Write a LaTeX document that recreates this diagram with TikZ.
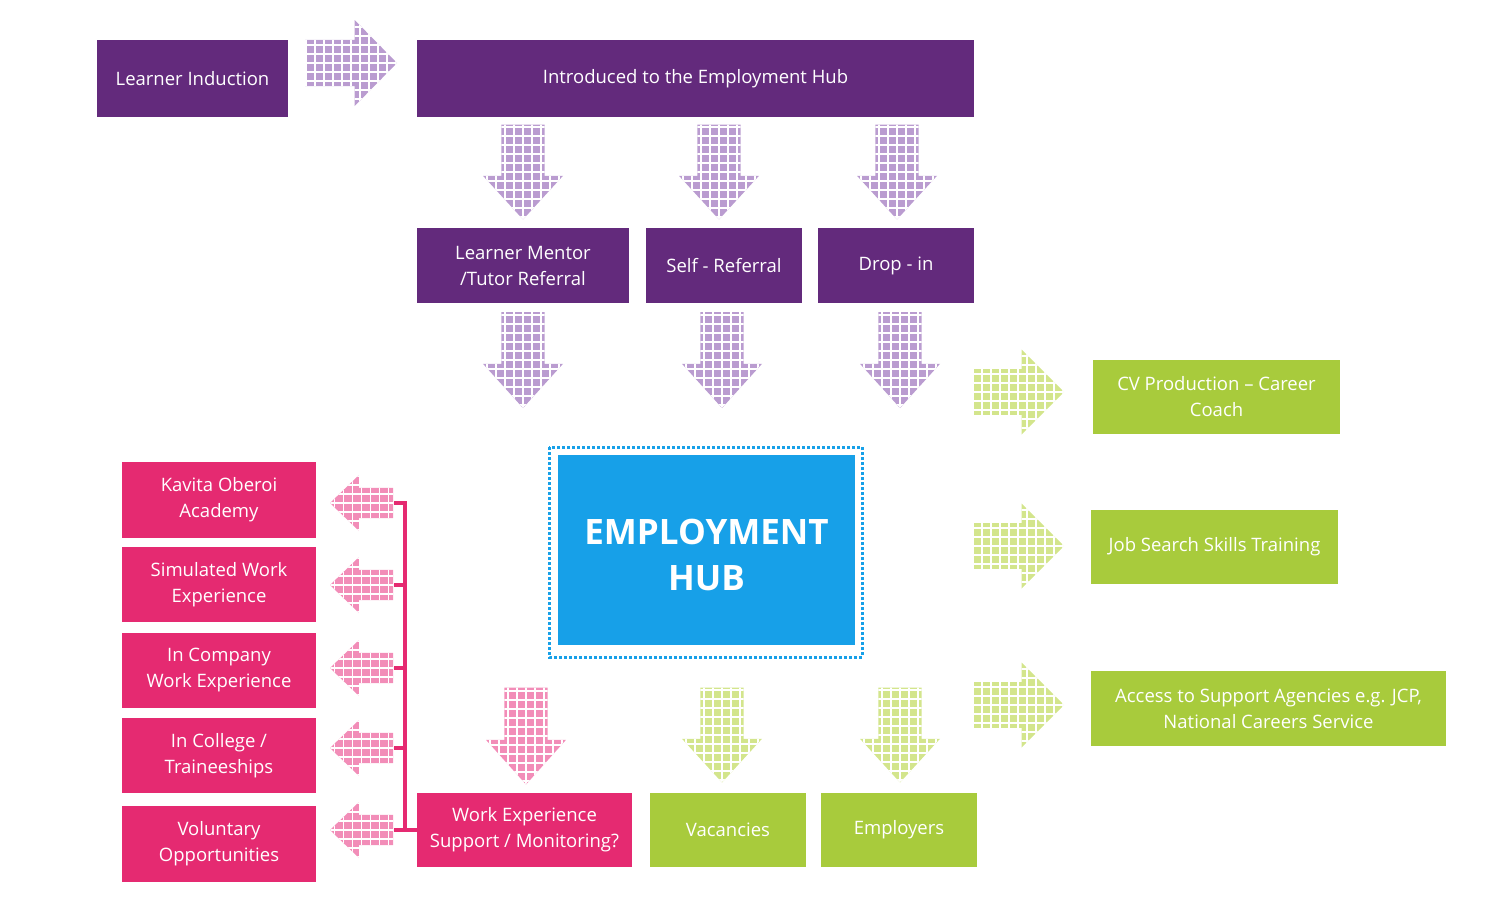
\documentclass[tikz,border=0pt]{standalone}
\usepackage{fontspec}
\setmainfont{Open Sans}
\definecolor{purp}{HTML}{632A7C}
\definecolor{lpurp}{HTML}{BA9CD0}
\definecolor{grn}{HTML}{A8CB3C}
\definecolor{lgrn}{HTML}{D3E58C}
\definecolor{pnk}{HTML}{E52A71}
\definecolor{lpnk}{HTML}{F28DB8}
\definecolor{hubc}{HTML}{17A0E8}
\newcommand{\dotarrow}[6]{%
\begin{scope}[shift={(#1,#2)},rotate=#3]
\pgfmathsetmacro{\aa}{#4/2}
\pgfmathsetmacro{\hl}{0.46*#4}
\pgfmathsetmacro{\ss}{0.27*#5}
\pgfmathsetmacro{\ww}{#5/2}
\begin{scope}
\clip (-\aa,-\ss) -- (\aa-\hl,-\ss) -- (\aa-\hl,-\ww) -- (\aa,0) -- (\aa-\hl,\ww) -- (\aa-\hl,\ss) -- (-\aa,\ss) -- cycle;
\fill[#6] (-60,-60) rectangle (60,60);
\foreach \t in {-63,-54,...,63} {\draw[white,line width=1.3pt] (\t,-63) -- (\t,63) (-63,\t) -- (63,\t);}
\end{scope}
\end{scope}}
\tikzset{
 box/.style={draw=none,text=white,align=center,inner sep=2pt,font=\fontsize{18.5}{26}\selectfont},
 pbox/.style={box,fill=purp},
 gbox/.style={box,fill=grn},
 kbox/.style={box,fill=pnk},
 link/.style={draw=pnk,line width=4pt}
}
\begin{document}
\begin{tikzpicture}[x=1pt,y=-1pt]
\useasboundingbox (0,0) rectangle (1506,900);
% purple boxes
\node[pbox,minimum width=191pt,minimum height=77pt] (induct) at (192.5,78.5) {Learner Induction};
\node[pbox,minimum width=557pt,minimum height=77pt] (intro) at (695.5,78.5) {Introduced to the Employment Hub};
\node[pbox,minimum width=212pt,minimum height=75pt] (mentor) at (523,265.5) {Learner Mentor\\/Tutor Referral};
\node[pbox,minimum width=156pt,minimum height=75pt] (self) at (724,265.5) {Self - Referral};
\node[pbox,minimum width=156pt,minimum height=75pt] (drop) at (896,265.5) {Drop - in};
% green boxes
\node[gbox,minimum width=247pt,minimum height=74pt] (cv) at (1216.5,397) {CV Production -- Career\\Coach};
\node[gbox,minimum width=247pt,minimum height=74pt] (job) at (1214.5,547) {Job Search Skills Training};
\node[gbox,minimum width=355pt,minimum height=75pt] (access) at (1268.5,708.5) {Access to Support Agencies e.g. JCP,\\National Careers Service};
\node[gbox,minimum width=156pt,minimum height=74pt] (vac) at (728,830) {Vacancies};
\node[gbox,minimum width=156pt,minimum height=74pt] (emp) at (899,830) {Employers};
% pink boxes
\node[kbox,minimum width=194pt,minimum height=76pt] (p1) at (219,500) {Kavita Oberoi\\Academy};
\node[kbox,minimum width=194pt,minimum height=75pt] (p2) at (219,584.5) {Simulated Work\\Experience};
\node[kbox,minimum width=194pt,minimum height=75pt] (p3) at (219,670.5) {In Company\\Work Experience};
\node[kbox,minimum width=194pt,minimum height=75pt] (p4) at (219,755.5) {In College /\\Traineeships};
\node[kbox,minimum width=194pt,minimum height=76pt] (p5) at (219,844) {Voluntary\\Opportunities};
\node[kbox,minimum width=215pt,minimum height=74pt] (work) at (524.5,830) {Work Experience\\Support / Monitoring?};
% hub
\fill[hubc] (558,455) rectangle (855,645);
\draw[hubc,line width=3pt,dash pattern=on 3pt off 2pt] (549,447) rectangle (862,657);
\node[text=white,align=center,font=\fontsize{35}{46}\selectfont\bfseries] (hub) at (706.5,555) {EMPLOYMENT\\HUB};
% arrows
\dotarrow{351}{63}{0}{92}{86}{lpurp}
\dotarrow{523}{172}{-90}{95}{80}{lpurp}
\dotarrow{719}{172}{-90}{95}{80}{lpurp}
\dotarrow{897}{172}{-90}{95}{80}{lpurp}
\dotarrow{523}{360}{-90}{96}{80}{lpurp}
\dotarrow{722}{360}{-90}{96}{80}{lpurp}
\dotarrow{900}{360}{-90}{96}{80}{lpurp}
\dotarrow{1018}{392}{0}{92}{85}{lgrn}
\dotarrow{1018}{546}{0}{92}{85}{lgrn}
\dotarrow{1018}{705}{0}{92}{85}{lgrn}
\dotarrow{526}{736}{-90}{97}{80}{lpnk}
\dotarrow{722}{735}{-90}{95}{80}{lgrn}
\dotarrow{900}{735}{-90}{95}{80}{lgrn}
\foreach \y in {503,585,668,748,830} {\dotarrow{361.5}{\y}{180}{63}{56}{lpnk}}
% bracket
\coordinate (b1) at (394,503);
\coordinate (b2) at (394,585);
\coordinate (b3) at (394,668);
\coordinate (b4) at (394,748);
\coordinate (b5) at (394,830);
\coordinate (v1) at (405,503);
\coordinate (v5) at (405,830);
\draw[link] (b1) -- (v1) -- (v5);
\draw[link] (b2) -- (b2 -| v1);
\draw[link] (b3) -- (b3 -| v1);
\draw[link] (b4) -- (b4 -| v1);
\draw[link] (b5) -- (work.west |- b5);
\end{tikzpicture}
\end{document}
